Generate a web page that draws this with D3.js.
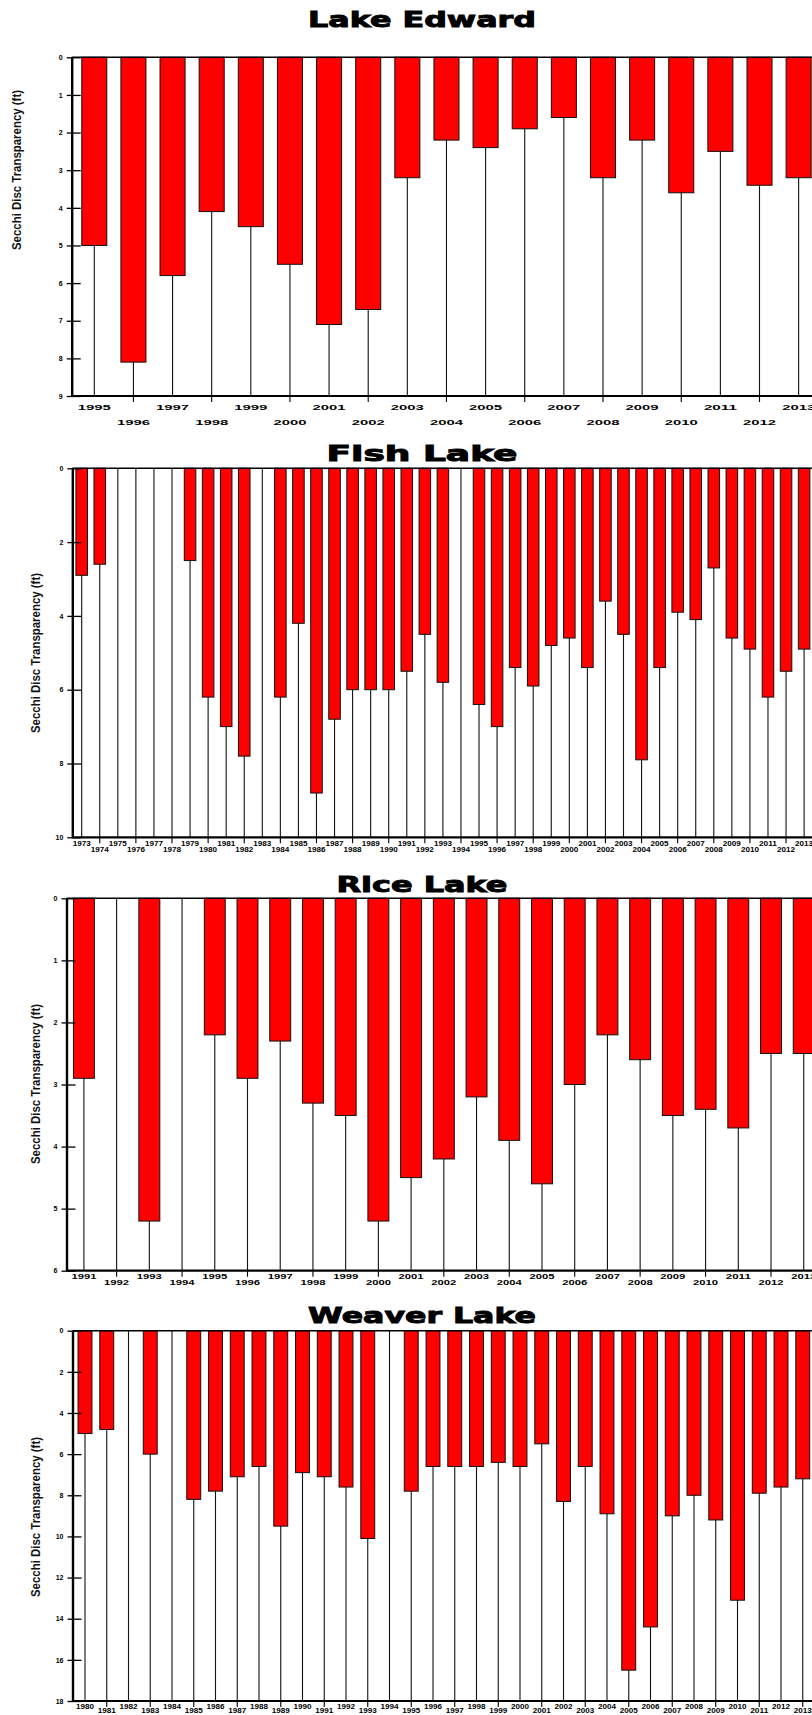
<!DOCTYPE html>
<html>
<head>
<meta charset="utf-8">
<script src="https://cdn.jsdelivr.net/npm/d3@7"></script>
<style>
  html, body { margin: 0; padding: 0; background: #fff; }
  svg { display: block; }
</style>
</head>
<body>
<svg id="chart" width="812" height="1715"></svg>
<script>
// ---- Lake Edward ----
const edwardYears = ["1995","1996","1997","1998","1999","2000","2001","2002","2003","2004",
                     "2005","2006","2007","2008","2009","2010","2011","2012","2013"];
const edwardSecchi = [5.0, 8.1, 5.8, 4.1, 4.5, 5.5, 7.1, 6.7, 3.2, 2.2,
                      2.4, 1.9, 1.6, 3.2, 2.2, 3.6, 2.5, 3.4, 3.2];
const edwardTicks = [0, 1, 2, 3, 4, 5, 6, 7, 8, 9];

// ---- Fish Lake (null = no reading that year) ----
const fishYears = ["1973","1974","1975","1976","1977","1978","1979","1980","1981","1982",
                   "1983","1984","1985","1986","1987","1988","1989","1990","1991","1992",
                   "1993","1994","1995","1996","1997","1998","1999","2000","2001","2002",
                   "2003","2004","2005","2006","2007","2008","2009","2010","2011","2012","2013"];
const fishSecchi = [2.9, 2.6, null, null, null, null, 2.5, 6.2, 7.0, 7.8,
                    null, 6.2, 4.2, 8.8, 6.8, 6.0, 6.0, 6.0, 5.5, 4.5,
                    5.8, null, 6.4, 7.0, 5.4, 5.9, 4.8, 4.6, 5.4, 3.6,
                    4.5, 7.9, 5.4, 3.9, 4.1, 2.7, 4.6, 4.9, 6.2, 5.5, 4.9];
const fishTicks = [0, 2, 4, 6, 8, 10];

// ---- Rice Lake ----
const riceYears = ["1991","1992","1993","1994","1995","1996","1997","1998","1999","2000",
                   "2001","2002","2003","2004","2005","2006","2007","2008","2009","2010",
                   "2011","2012","2013"];
const riceSecchi = [2.9, null, 5.2, null, 2.2, 2.9, 2.3, 3.3, 3.5, 5.2,
                    4.5, 4.2, 3.2, 3.9, 4.6, 3.0, 2.2, 2.6, 3.5, 3.4,
                    3.7, 2.5, 2.5];
const riceTicks = [0, 1, 2, 3, 4, 5, 6];

// ---- Weaver Lake ----
const weaverYears = ["1980","1981","1982","1983","1984","1985","1986","1987","1988","1989",
                     "1990","1991","1992","1993","1994","1995","1996","1997","1998","1999",
                     "2000","2001","2002","2003","2004","2005","2006","2007","2008","2009",
                     "2010","2011","2012","2013"];
const weaverSecchi = [5.0, 4.8, null, 6.0, null, 8.2, 7.8, 7.1, 6.6, 9.5,
                      6.9, 7.1, 7.6, 10.1, null, 7.8, 6.6, 6.6, 6.6, 6.4,
                      6.6, 5.5, 8.3, 6.6, 8.9, 16.5, 14.4, 9.0, 8.0, 9.2,
                      13.1, 7.9, 7.6, 7.2];
const weaverTicks = [0, 2, 4, 6, 8, 10, 12, 14, 16, 18];

const yTitle = "Secchi Disc Transparency (ft)";

// Panel geometry (pixels)
const panels = [
  { title: "Lake Edward", years: edwardYears, values: edwardSecchi, ticks: edwardTicks, yMax: 9,
    titleY: 26.7, titleW: 228, axisX: 71.7, top: 57.3, bottom: 396, first: 94.3, step: 39.13,
    yTitleX: 17, yTitleCY: 170, row1: 10.7, row2: 26, labelW: 33, labelFS: 8 },
  { title: "Fish Lake", years: fishYears, values: fishSecchi, ticks: fishTicks, yMax: 10,
    titleY: 460.7, titleW: 191, axisX: 72.3, top: 468.3, bottom: 837.3, first: 81.7, step: 18.06,
    yTitleX: 36, yTitleCY: 653, row1: 6.4, row2: 12.4, labelW: 18, labelFS: 7.5 },
  { title: "Rice Lake", years: riceYears, values: riceSecchi, ticks: riceTicks, yMax: 6,
    titleY: 892.3, titleW: 171, axisX: 66.5, top: 898.3, bottom: 1270.7, first: 83.9, step: 32.72,
    yTitleX: 36, yTitleCY: 1084, row1: 5.3, row2: 11.3, labelW: 25, labelFS: 7.5 },
  { title: "Weaver Lake", years: weaverYears, values: weaverSecchi, ticks: weaverTicks, yMax: 18,
    titleY: 1323, titleW: 228, axisX: 72.5, top: 1330.7, bottom: 1701, first: 85, step: 21.75,
    yTitleX: 36, yTitleCY: 1517, row1: 5.2, row2: 9.6, labelW: 18, labelFS: 6.8 }
];

const svg = d3.select("#chart");
const W = 812, titleCX = 422;

svg.append("rect").attr("width", W).attr("height", 1715).attr("fill", "#fff");

panels.forEach(p => {
  const g = svg.append("g");

  // Year bands: stems sit on band centres, bars take ~64% of each band
  const n = p.years.length;
  const x = d3.scaleBand()
    .domain(p.years)
    .range([p.first - p.step / 2, p.first + (n - 0.5) * p.step])
    .paddingInner(0.36)
    .paddingOuter(0.18);
  const cx = d => x(d) + x.bandwidth() / 2;

  // Depth grows downward from the surface line
  const y = d3.scaleLinear().domain([0, p.yMax]).range([p.top, p.bottom]);

  // Title
  g.append("text")
    .attr("x", titleCX).attr("y", p.titleY)
    .attr("text-anchor", "middle")
    .attr("font-family", "DejaVu Sans, Liberation Sans, sans-serif")
    .attr("font-weight", "bold")
    .attr("font-size", 20.5)
    .attr("textLength", p.titleW)
    .attr("lengthAdjust", "spacingAndGlyphs")
    .attr("fill", "#000").attr("stroke", "#000").attr("stroke-width", 0.9)
    .text(p.title);

  // Vertical title
  g.append("text")
    .attr("transform", `translate(${p.yTitleX},${p.yTitleCY}) rotate(-90)`)
    .attr("text-anchor", "middle")
    .attr("dy", "0.35em")
    .attr("font-family", "Liberation Sans, Arial, sans-serif")
    .attr("font-weight", "bold")
    .attr("font-size", 12.5)
    .attr("textLength", 160)
    .attr("lengthAdjust", "spacingAndGlyphs")
    .attr("fill", "#111")
    .text(yTitle);

  // Drop lines for every year
  g.append("g").selectAll("line")
    .data(p.years)
    .join("line")
    .attr("x1", d => cx(d)).attr("x2", d => cx(d))
    .attr("y1", y(0)).attr("y2", y(p.yMax))
    .attr("stroke", "#111").attr("stroke-width", 1.1);

  // Bars hanging from the surface
  const rows = p.years.map((yr, i) => ({ yr, v: p.values[i] })).filter(d => d.v != null);
  g.append("g").selectAll("rect")
    .data(rows)
    .join("rect")
    .attr("x", d => x(d.yr))
    .attr("width", x.bandwidth())
    .attr("y", y(0))
    .attr("height", d => y(d.v) - y(0))
    .attr("fill", "#ff0000")
    .attr("stroke", "#111")
    .attr("stroke-width", 1);

  // Surface line and bottom axis line
  g.append("line")
    .attr("x1", p.axisX).attr("x2", W)
    .attr("y1", y(0)).attr("y2", y(0))
    .attr("stroke", "#000").attr("stroke-width", 1.6);
  g.append("line")
    .attr("x1", p.axisX).attr("x2", W)
    .attr("y1", y(p.yMax)).attr("y2", y(p.yMax))
    .attr("stroke", "#000").attr("stroke-width", 2.2);

  // Left axis
  const ya = g.append("g")
    .attr("transform", `translate(${p.axisX},0)`)
    .call(d3.axisLeft(y).tickValues(p.ticks).tickFormat(d3.format("d"))
      .tickSizeInner(-9).tickSizeOuter(0).tickPadding(9));
  ya.select(".domain").attr("stroke", "#000").attr("stroke-width", 2.4);
  ya.selectAll(".tick line").attr("x1", -5).attr("stroke", "#000").attr("stroke-width", 1.3);
  ya.selectAll(".tick text")
    .attr("font-family", "Liberation Sans, Arial, sans-serif")
    .attr("font-weight", "bold")
    .attr("font-size", 7)
    .attr("fill", "#000");

  // Bottom axis: year labels staggered on two rows
  const xa = g.append("g")
    .attr("transform", `translate(0,${y(p.yMax)})`)
    .call(d3.axisBottom(x).tickSize(0).tickPadding(0));
  xa.select(".domain").remove();
  xa.selectAll(".tick").each(function (d, i) {
    const t = d3.select(this);
    if (i % 2 === 1) {
      t.select("line").attr("y2", 6).attr("stroke", "#000").attr("stroke-width", 1.1);
    }
    t.select("text")
      .attr("y", i % 2 === 0 ? p.row1 : p.row2)
      .attr("dy", "0.36em")
      .attr("font-family", "Liberation Sans, Arial, sans-serif")
      .attr("font-weight", "bold")
      .attr("font-size", p.labelFS)
      .attr("textLength", p.labelW)
      .attr("lengthAdjust", "spacingAndGlyphs")
      .attr("fill", "#000");
  });
});
</script>
</body>
</html>
